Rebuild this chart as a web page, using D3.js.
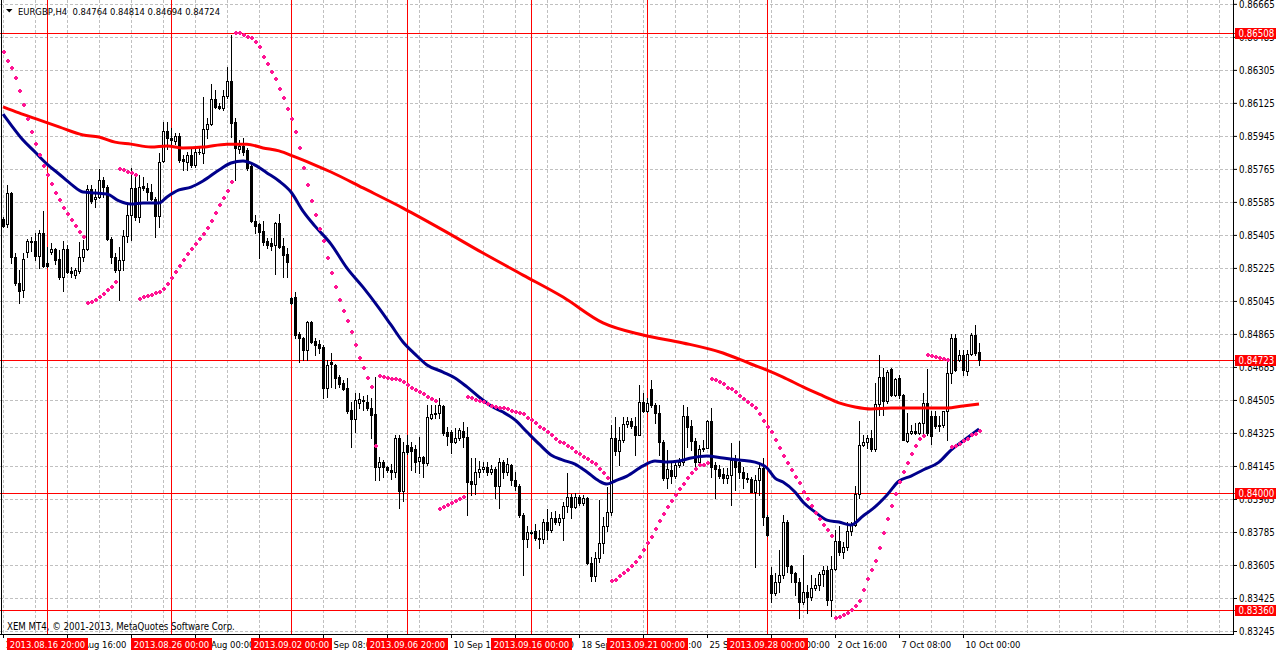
<!DOCTYPE html>
<html><head><meta charset="utf-8">
<script src="https://cdn.jsdelivr.net/npm/d3@7"></script>
<style>
html,body{margin:0;padding:0;background:#fff;overflow:hidden;}
svg{display:block;}
text{font-family:"DejaVu Sans Condensed","DejaVu Sans",sans-serif;}
</style></head><body>
<svg id="c" width="1276" height="652"></svg>
<script>
// ---------- DATA (EURGBP, H4) ----------
const symbolTitle = "EURGBP,H4";
const lastQuote = [0.84764, 0.84814, 0.84694, 0.84724];
const copyright = "XEM MT4, \u00a9 2001-2013, MetaQuotes Software Corp.";

const openP = [
0.85491,0.85464,0.85634,0.85284,0.85143,0.85104,0.85311,0.85372,0.85372,0.85289,
0.85415,0.85252,0.85311,0.85328,0.85273,0.85175,0.85328,0.85208,0.85186,0.85208,
0.85284,0.85328,0.85655,0.85601,0.85612,0.85704,0.85666,0.85382,0.85284,0.85213,
0.85268,0.85398,0.85513,0.85660,0.85502,0.85671,0.85660,0.85639,0.85601,0.85507,
0.85808,0.85972,0.85935,0.85915,0.85944,0.85819,0.85802,0.85841,0.85786,0.85857,
0.85852,0.85983,0.86010,0.86146,0.86110,0.86097,0.86163,0.86245,0.86021,0.85873,
0.85890,0.85868,0.85780,0.85480,0.85464,0.85426,0.85372,0.85361,0.85350,0.85470,
0.85344,0.85300,0.85060,0.85066,0.84864,0.84842,0.84777,0.84930,0.84826,0.84810,
0.84793,0.84570,0.84712,0.84696,0.84630,0.84597,0.84570,0.84450,0.84401,0.84489,
0.84505,0.84494,0.84461,0.84428,0.84139,0.84166,0.84139,0.84123,0.84112,0.84298,
0.84009,0.84260,0.84248,0.84237,0.84172,0.84194,0.84161,0.84407,0.84428,0.84434,
0.84472,0.84330,0.84330,0.84276,0.84298,0.84336,0.84303,0.84063,0.84046,0.84112,
0.84128,0.84139,0.84112,0.84128,0.84036,0.84166,0.84112,0.84150,0.84068,0.84036,
0.83878,0.83747,0.83785,0.83790,0.83752,0.83747,0.83840,0.83796,0.83861,0.83840,
0.83861,0.83927,0.83976,0.83922,0.83976,0.83943,0.83970,0.83616,0.83545,0.83643,
0.83725,0.83818,0.83894,0.84298,0.84226,0.84287,0.84374,0.84390,0.84363,0.84314,
0.84494,0.84445,0.84565,0.84478,0.84434,0.84276,0.84079,0.84123,0.84090,0.84150,
0.84166,0.84418,0.84363,0.84281,0.84166,0.84237,0.84243,0.84390,0.84150,0.84128,
0.84101,0.84079,0.84096,0.84177,0.84166,0.84112,0.84079,0.84074,0.84003,0.84068,
0.84134,0.83867,0.83550,0.83452,0.83512,0.83550,0.83840,0.83599,0.83561,0.83512,
0.83403,0.83457,0.83430,0.83479,0.83495,0.83556,0.83577,0.83414,0.83583,0.83736,
0.83676,0.83703,0.83790,0.83823,0.83992,0.84259,0.84276,0.84298,0.84237,0.84483,
0.84630,0.84499,0.84674,0.84532,0.84625,0.84532,0.84281,0.84325,0.84336,0.84325,
0.84379,0.84489,0.84418,0.84418,0.84369,0.84369,0.84445,0.84652,0.84842,0.84723,
0.84750,0.84663,0.84755,0.84859,0.84764];

const highP = [
0.85502,0.85677,0.85639,0.85306,0.85213,0.85306,0.85382,0.85393,0.85415,0.85431,
0.85535,0.85339,0.85361,0.85333,0.85322,0.85372,0.85350,0.85230,0.85224,0.85366,
0.85377,0.85677,0.85677,0.85655,0.85764,0.85721,0.85677,0.85393,0.85306,0.85339,
0.85431,0.85579,0.85769,0.85721,0.85732,0.85721,0.85688,0.85682,0.85612,0.85852,
0.86021,0.86021,0.85988,0.85961,0.85961,0.85841,0.85857,0.85884,0.85879,0.85879,
0.86157,0.86042,0.86228,0.86195,0.86124,0.86195,0.86321,0.86495,0.86042,0.85922,
0.85933,0.85879,0.85797,0.85513,0.85470,0.85480,0.85388,0.85388,0.85475,0.85518,
0.85388,0.85333,0.85066,0.85093,0.84875,0.84848,0.84936,0.84936,0.84842,0.84832,
0.84804,0.84723,0.84761,0.84701,0.84641,0.84614,0.84625,0.84494,0.84543,0.84543,
0.84527,0.84532,0.84516,0.84630,0.84194,0.84177,0.84145,0.84155,0.84314,0.84314,
0.84276,0.84314,0.84276,0.84259,0.84303,0.84199,0.84478,0.84478,0.84478,0.84516,
0.84478,0.84358,0.84341,0.84352,0.84352,0.84385,0.84358,0.84188,0.84188,0.84172,
0.84166,0.84166,0.84150,0.84139,0.84188,0.84177,0.84188,0.84155,0.84112,0.84046,
0.83889,0.83817,0.83796,0.83829,0.83796,0.83856,0.83911,0.83894,0.83900,0.83883,
0.83949,0.84107,0.83992,0.83998,0.83987,0.83987,0.83976,0.83648,0.83676,0.83960,
0.83867,0.84030,0.84369,0.84412,0.84358,0.84412,0.84412,0.84407,0.84412,0.84587,
0.84543,0.84516,0.84614,0.84489,0.84478,0.84287,0.84232,0.84161,0.84166,0.84188,
0.84478,0.84467,0.84396,0.84298,0.84259,0.84287,0.84396,0.84461,0.84166,0.84150,
0.84134,0.84134,0.84271,0.84205,0.84281,0.84139,0.84106,0.84085,0.84096,0.84150,
0.84188,0.83878,0.83594,0.83561,0.83686,0.83878,0.83850,0.83605,0.83566,0.83534,
0.83659,0.83495,0.83550,0.83534,0.83566,0.83599,0.83599,0.83653,0.83796,0.83818,
0.83730,0.83839,0.83839,0.84035,0.84390,0.84314,0.84314,0.84341,0.84598,0.84750,
0.84679,0.84668,0.84679,0.84625,0.84641,0.84538,0.84434,0.84369,0.84379,0.84385,
0.84543,0.84674,0.84445,0.84445,0.84418,0.84445,0.84717,0.84864,0.84864,0.84777,
0.84777,0.84777,0.84870,0.84914,0.84814];

const lowP = [
0.85448,0.85448,0.85252,0.85132,0.85034,0.85066,0.85284,0.85317,0.85268,0.85224,
0.85230,0.85228,0.85300,0.85246,0.85164,0.85099,0.85197,0.85175,0.85169,0.85197,
0.85263,0.85322,0.85579,0.85557,0.85606,0.85612,0.85377,0.85252,0.85202,0.85050,
0.85213,0.85366,0.85377,0.85486,0.85475,0.85650,0.85595,0.85595,0.85393,0.85448,
0.85802,0.85873,0.85895,0.85900,0.85802,0.85759,0.85759,0.85775,0.85775,0.85846,
0.85797,0.85933,0.86005,0.86097,0.86090,0.86086,0.86151,0.85939,0.85704,0.85852,
0.85841,0.85759,0.85475,0.85415,0.85278,0.85350,0.85333,0.85322,0.85191,0.85333,
0.85175,0.85175,0.85028,0.84842,0.84712,0.84723,0.84723,0.84816,0.84750,0.84761,
0.84515,0.84521,0.84576,0.84570,0.84575,0.84559,0.84434,0.84249,0.84330,0.84461,
0.84450,0.84450,0.84298,0.84068,0.84068,0.84085,0.84112,0.84074,0.84085,0.83916,
0.83955,0.84210,0.84123,0.84112,0.84106,0.84085,0.84150,0.84401,0.84407,0.84407,
0.84314,0.84259,0.84216,0.84270,0.84287,0.84248,0.83878,0.83987,0.83992,0.84085,
0.84112,0.84096,0.84101,0.83970,0.83916,0.84079,0.84096,0.84041,0.84014,0.83867,
0.83550,0.83703,0.83774,0.83741,0.83697,0.83725,0.83747,0.83785,0.83829,0.83823,
0.83741,0.83894,0.83861,0.83916,0.83933,0.83933,0.83610,0.83517,0.83517,0.83621,
0.83670,0.83790,0.83878,0.84205,0.84150,0.84276,0.84358,0.84352,0.84205,0.84314,
0.84439,0.84439,0.84467,0.84379,0.84205,0.84068,0.84025,0.84052,0.84079,0.84139,
0.84150,0.84249,0.84232,0.84139,0.84150,0.84226,0.84243,0.84085,0.83970,0.84079,
0.84052,0.84052,0.83933,0.84014,0.84079,0.84025,0.84057,0.84003,0.83594,0.83987,
0.83823,0.83763,0.83403,0.83441,0.83457,0.83534,0.83566,0.83512,0.83441,0.83315,
0.83392,0.83343,0.83414,0.83468,0.83468,0.83490,0.83387,0.83326,0.83577,0.83659,
0.83643,0.83686,0.83769,0.83818,0.83970,0.84254,0.84243,0.84226,0.84226,0.84423,
0.84423,0.84489,0.84527,0.84527,0.84515,0.84287,0.84276,0.84319,0.84319,0.84319,
0.84309,0.84314,0.84265,0.84352,0.84336,0.84358,0.84287,0.84597,0.84663,0.84717,
0.84641,0.84641,0.84750,0.84750,0.84694];

const closeP = [
0.85453,0.85634,0.85284,0.85143,0.85099,0.85273,0.85372,0.85366,0.85289,0.85415,
0.85235,0.85235,0.85328,0.85268,0.85175,0.85328,0.85202,0.85197,0.85213,0.85284,
0.85328,0.85655,0.85590,0.85612,0.85704,0.85666,0.85382,0.85284,0.85213,0.85268,
0.85398,0.85513,0.85660,0.85502,0.85666,0.85660,0.85639,0.85601,0.85507,0.85802,
0.85972,0.85933,0.85922,0.85944,0.85813,0.85808,0.85841,0.85786,0.85857,0.85855,
0.85983,0.86010,0.86146,0.86103,0.86097,0.86163,0.86245,0.86016,0.85879,0.85890,
0.85857,0.85769,0.85480,0.85453,0.85420,0.85366,0.85350,0.85344,0.85470,0.85339,
0.85295,0.85257,0.85034,0.84859,0.84842,0.84777,0.84930,0.84821,0.84804,0.84788,
0.84570,0.84696,0.84701,0.84625,0.84592,0.84565,0.84445,0.84401,0.84505,0.84510,
0.84499,0.84461,0.84423,0.84139,0.84166,0.84139,0.84123,0.84112,0.84298,0.84009,
0.84221,0.84221,0.84226,0.84166,0.84194,0.84161,0.84412,0.84428,0.84434,0.84478,
0.84325,0.84309,0.84276,0.84298,0.84341,0.84303,0.84057,0.84046,0.84112,0.84128,
0.84139,0.84112,0.84128,0.84036,0.84166,0.84112,0.84155,0.84068,0.84036,0.83878,
0.83747,0.83785,0.83780,0.83752,0.83747,0.83840,0.83796,0.83861,0.83840,0.83861,
0.83927,0.83976,0.83922,0.83976,0.83943,0.83970,0.83616,0.83545,0.83643,0.83725,
0.83818,0.83894,0.84298,0.84226,0.84287,0.84374,0.84390,0.84363,0.84314,0.84494,
0.84445,0.84489,0.84478,0.84434,0.84276,0.84079,0.84128,0.84090,0.84150,0.84166,
0.84418,0.84358,0.84281,0.84166,0.84237,0.84243,0.84390,0.84139,0.84128,0.84090,
0.84079,0.84096,0.84177,0.84139,0.84112,0.84079,0.84074,0.84003,0.84068,0.84134,
0.83867,0.83769,0.83452,0.83512,0.83550,0.83840,0.83599,0.83561,0.83512,0.83403,
0.83457,0.83430,0.83479,0.83495,0.83556,0.83577,0.83414,0.83583,0.83736,0.83676,
0.83703,0.83790,0.83823,0.83992,0.84259,0.84276,0.84298,0.84237,0.84483,0.84630,
0.84499,0.84657,0.84532,0.84619,0.84532,0.84287,0.84325,0.84336,0.84325,0.84379,
0.84489,0.84325,0.84309,0.84363,0.84363,0.84445,0.84652,0.84842,0.84668,0.84750,
0.84668,0.84755,0.84859,0.84761,0.84724];

// Parabolic SAR, one value per bar
const sarP = [
0.86402,0.86354,0.86315,0.86260,0.86190,0.86114,0.86037,0.85966,0.85900,0.85841,
0.85780,0.85732,0.85682,0.85634,0.85595,0.85551,0.85518,0.85486,0.85453,0.85420,
0.85393,0.85034,0.85039,0.85050,0.85066,0.85082,0.85104,0.85120,0.85148,0.85764,
0.85759,0.85748,0.85743,0.85732,0.85055,0.85066,0.85071,0.85077,0.85088,0.85093,
0.85110,0.85137,0.85169,0.85202,0.85235,0.85268,0.85300,0.85328,0.85355,0.85382,
0.85409,0.85442,0.85480,0.85524,0.85568,0.85606,0.85645,0.85693,0.86506,0.86506,
0.86495,0.86484,0.86478,0.86457,0.86430,0.86375,0.86337,0.86293,0.86255,0.86201,
0.86152,0.86092,0.86037,0.85966,0.85879,0.85769,0.85677,0.85590,0.85513,0.85437,
0.85372,0.85278,0.85197,0.85120,0.85050,0.84990,0.84936,0.84875,0.84804,0.84734,
0.84679,0.84625,0.84576,0.84254,0.84636,0.84630,0.84625,0.84619,0.84619,0.84614,
0.84603,0.84587,0.84570,0.84559,0.84548,0.84537,0.84521,0.84510,0.84500,0.83911,
0.83922,0.83933,0.83944,0.83954,0.83965,0.83976,0.84521,0.84516,0.84505,0.84500,
0.84494,0.84483,0.84472,0.84467,0.84461,0.84461,0.84456,0.84445,0.84439,0.84434,
0.84428,0.84407,0.84396,0.84379,0.84358,0.84347,0.84330,0.84314,0.84292,0.84276,
0.84270,0.84254,0.84243,0.84221,0.84210,0.84194,0.84183,0.84166,0.84155,0.84128,
0.84106,0.84079,0.83518,0.83523,0.83545,0.83561,0.83577,0.83599,0.83621,0.83648,
0.83686,0.83725,0.83758,0.83801,0.83845,0.83883,0.83922,0.83954,0.83987,0.84019,
0.84046,0.84079,0.84106,0.84128,0.84150,0.84150,0.84161,0.84619,0.84614,0.84603,
0.84592,0.84570,0.84565,0.84548,0.84527,0.84510,0.84494,0.84478,0.84461,0.84428,
0.84390,0.84358,0.84330,0.84287,0.84243,0.84199,0.84161,0.84123,0.84085,0.84052,
0.84003,0.83965,0.83927,0.83889,0.83856,0.83823,0.83796,0.83763,0.83316,0.83321,
0.83332,0.83343,0.83359,0.83381,0.83408,0.83468,0.83528,0.83577,0.83626,0.83697,
0.83780,0.83856,0.83927,0.83992,0.84057,0.84112,0.84161,0.84210,0.84254,0.84292,
0.84309,0.84750,0.84745,0.84739,0.84734,0.84728,0.84723,0.84248,0.84254,0.84265,
0.84281,0.84292,0.84314,0.84319,0.84336];

// Fast moving average (dark blue), read at these bars
const maFastBars = [0,2,5,8,11,14,17,20,23,26,29,32,35,39,41,44,47,50,54,57,60,63,66,69,72,75,78,82,86,90,94,97,100,103,106,110,113,116,119,122,125,128,131,134,137,140,143,146,149,151,153,156,160,163,166,169,172,176,180,184,188,191,193,195,198,200,203,206,209,212,215,218,221,224,227,230,234,237,240,244];
const maFastVals = [0.86064,0.86005,0.85922,0.85857,0.85791,0.85737,0.85682,0.85639,0.85634,0.85628,0.85590,0.85573,0.85579,0.85579,0.85612,0.85650,0.85666,0.85699,0.85759,0.85797,0.85808,0.85786,0.85743,0.85699,0.85639,0.85535,0.85453,0.85355,0.85224,0.85120,0.85006,0.84914,0.84821,0.84755,0.84696,0.84657,0.84625,0.84576,0.84521,0.84472,0.84439,0.84396,0.84330,0.84265,0.84205,0.84177,0.84155,0.84112,0.84063,0.84046,0.84063,0.84090,0.84145,0.84172,0.84166,0.84172,0.84188,0.84199,0.84188,0.84177,0.84166,0.84134,0.84079,0.84057,0.84003,0.83949,0.83894,0.83850,0.83839,0.83823,0.83872,0.83922,0.83987,0.84063,0.84090,0.84123,0.84166,0.84232,0.84281,0.84347];

// Slow moving average (red), read at these bars
const maSlowBars = [0,4,9,14,20,24,28,32,37,41,45,50,56,61,65,69,73,78,82,90,100,110,120,130,140,150,160,170,180,187,191,195,200,205,209,213,217,222,229,236,240,244];
const maSlowVals = [0.86103,0.86070,0.86032,0.85994,0.85950,0.85939,0.85911,0.85900,0.85884,0.85890,0.85879,0.85884,0.85900,0.85900,0.85879,0.85863,0.85830,0.85786,0.85748,0.85661,0.85551,0.85431,0.85306,0.85186,0.85066,0.84925,0.84859,0.84816,0.84761,0.84701,0.84668,0.84630,0.84576,0.84527,0.84489,0.84467,0.84456,0.84461,0.84461,0.84461,0.84472,0.84483];

// Price axis tick labels
const priceTicks = [0.86665,0.86485,0.86305,0.86125,0.85945,0.85765,0.85585,0.85405,0.85225,0.85045,0.84865,0.84685,0.84505,0.84325,0.84145,0.83965,0.83785,0.83605,0.83425,0.83245];

// Time axis ticks (bar index) and labels
const timeTickBars = [0,16,32,48,64,80,96,112,128,144,160,176,192,208,224,240];
const timeTickLabels = ["15 Aug 2013","19 Aug 16:00","22 Aug 08:00","27 Aug 00:00","29 Aug 16:00","3 Sep 08:00","6 Sep 00:00","10 Sep 16:00","13 Sep 08:00","18 Sep 00:00","20 Sep 16:00","25 Sep 08:00","30 Sep 00:00","2 Oct 16:00","7 Oct 08:00","10 Oct 00:00"];

// Horizontal price levels (red lines)
const hLevels = [0.86508,0.84723,0.84000,0.83360];
// Vertical time lines (bar index) and their labels
const vLineBars = [11,42,72,101,132,161,191];
const vLineLabels = ["2013.08.16 20:00","2013.08.26 00:00","2013.09.02 00:00","2013.09.06 20:00","2013.09.16 00:00","2013.09.21 00:00","2013.09.28 00:00"];

// ---------- DRAW ----------
const svg = d3.select("#c");
const plotRight = 1233, plotBottom = 634;
const x = d3.scaleLinear().domain([0, 244]).range([3, 979]);
const y = d3.scaleLinear().domain([0.83245, 0.86665]).range([631, 3.85]);
const px = v => Math.round(v) + 0.5;
const FS = 9.6, FS_BOTTOM = 9.4, FS_TITLE = 9.4, FS_COPY = 9.6;

svg.append("rect").attr("width",1276).attr("height",652).attr("fill","#fff");

// grid
const grid = svg.append("g").attr("stroke","#c0c0c0").attr("stroke-dasharray","3,2").attr("shape-rendering","crispEdges");
grid.selectAll(null).data(priceTicks).join("line")
  .attr("x1",0).attr("x2",plotRight).attr("y1",d=>px(y(d))).attr("y2",d=>px(y(d)));
grid.selectAll(null).data(d3.range(0, 305, 8)).join("line")
  .attr("x1",d=>px(x(d))).attr("x2",d=>px(x(d))).attr("y1",0).attr("y2",plotBottom);

// red objects
const obj = svg.append("g").attr("stroke","#ff0000").attr("shape-rendering","crispEdges");
obj.selectAll(null).data(hLevels).join("line")
  .attr("x1",0).attr("x2",plotRight+2).attr("y1",d=>px(y(d))).attr("y2",d=>px(y(d)));
obj.selectAll(null).data(vLineBars).join("line")
  .attr("x1",d=>px(x(d))).attr("x2",d=>px(x(d))).attr("y1",0).attr("y2",plotBottom);

// candles
const bars = d3.range(openP.length).map(i => ({i, o:openP[i], h:highP[i], l:lowP[i], c:closeP[i]}));
const cg = svg.append("g").attr("shape-rendering","crispEdges");
cg.selectAll("line.w").data(bars).join("line").attr("class","w")
  .attr("x1",d=>px(x(d.i))).attr("x2",d=>px(x(d.i)))
  .attr("y1",d=>Math.round(y(d.h))).attr("y2",d=>Math.round(y(d.l))+1)
  .attr("stroke","#000");
cg.selectAll("rect.b").data(bars).join("rect").attr("class","b")
  .each(function(d){
    const cx = Math.round(x(d.i));
    const t = Math.round(y(Math.max(d.o,d.c))), b = Math.round(y(Math.min(d.o,d.c)));
    const s = d3.select(this);
    if (d.c > d.o && b - t >= 2) {
      s.attr("x",cx-0.5).attr("y",t+0.5).attr("width",2).attr("height",b-t)
       .attr("fill","#fff").attr("stroke","#000").attr("stroke-width",1);
    } else {
      s.attr("x",cx-1).attr("y",t).attr("width",3).attr("height",Math.max(1,b-t+1))
       .attr("fill","#000");
    }
  });

// moving averages
const line = d3.line().x(d=>x(d[0])).y(d=>y(d[1])).curve(d3.curveMonotoneX);
svg.append("path").datum(maSlowBars.map((b,k)=>[b,maSlowVals[k]]))
  .attr("d",line).attr("fill","none").attr("stroke","#ff0000").attr("stroke-width",3).attr("stroke-linejoin","round");
svg.append("path").datum(maFastBars.map((b,k)=>[b,maFastVals[k]]))
  .attr("d",line).attr("fill","none").attr("stroke","#00008b").attr("stroke-width",3).attr("stroke-linejoin","round");

// parabolic SAR dots
const sarShape = "M-1,-2h2v1h1v2h-1v1h-2v-1h-1v-2h1z";
svg.append("g").attr("fill","#ff1493").attr("shape-rendering","crispEdges")
  .selectAll("path").data(sarP.map((v,i)=>[i,v])).join("path")
  .attr("d",sarShape)
  .attr("transform",d=>`translate(${Math.round(x(d[0]))+0.5},${Math.round(y(d[1]))})`);

// frame lines
svg.append("line").attr("x1",1.5).attr("x2",1.5).attr("y1",0).attr("y2",plotBottom).attr("stroke","#000");
svg.append("line").attr("x1",px(plotRight)).attr("x2",px(plotRight)).attr("y1",0).attr("y2",plotBottom+1).attr("stroke","#000");
svg.append("line").attr("x1",0).attr("x2",plotRight+1).attr("y1",px(plotBottom)).attr("y2",px(plotBottom)).attr("stroke","#000");

// price axis
const yAxis = svg.append("g").attr("transform",`translate(${plotRight},0)`)
  .call(d3.axisRight(y).tickValues(priceTicks).tickFormat(d3.format(".5f")).tickSize(4).tickPadding(2));
yAxis.select(".domain").remove();
yAxis.attr("font-family",null).attr("font-size",null);
yAxis.selectAll("text").style("font-size",FS+"px").attr("fill","#000").attr("dy","0.35em");

// time axis
const xAxis = svg.append("g").attr("transform",`translate(0,${plotBottom})`)
  .call(d3.axisBottom(x).tickValues(timeTickBars).tickFormat((d,i)=>timeTickLabels[i]).tickSize(4).tickPadding(3));
xAxis.select(".domain").remove();
xAxis.attr("font-family",null).attr("font-size",null);
xAxis.selectAll("text").attr("text-anchor","start").attr("x",2).style("font-size",FS_BOTTOM+"px").attr("fill","#000");

// red labels for horizontal levels
const hl = svg.append("g");
hl.selectAll("rect").data(hLevels).join("rect")
  .attr("x",plotRight+2).attr("y",d=>Math.round(y(d))-5).attr("width",41).attr("height",11).attr("fill","#ff0000");
hl.selectAll("text").data(hLevels).join("text")
  .attr("x",plotRight+5.5).attr("y",d=>Math.round(y(d))+4).attr("fill","#fff").style("font-size",FS+"px")
  .text(d=>d3.format(".5f")(d));

// red labels for vertical lines
const vl = svg.append("g");
vl.selectAll("rect").data(vLineBars).join("rect")
  .attr("x",d=>Math.round(x(d))-40).attr("y",638).attr("width",81).attr("height",12).attr("fill","#ff0000");
vl.selectAll("text").data(vLineBars).join("text")
  .attr("x",d=>Math.round(x(d))+0.5).attr("y",647.5).attr("text-anchor","middle").attr("fill","#fff")
  .style("font-size",FS_BOTTOM+"px").text((d,k)=>vLineLabels[k]);

// title
svg.append("path").attr("d","M6,9L12.5,9L9.25,12.5Z").attr("fill","#000");
svg.append("text").attr("x",18).attr("y",14.5).style("font-size",FS_TITLE+"px").style("white-space","pre").attr("fill","#000")
  .text(symbolTitle + "  " + lastQuote.map(d3.format(".5f")).join(" "));

// copyright
svg.append("text").attr("x",7).attr("y",629.5).style("font-size",FS_COPY+"px").attr("fill","#000").text(copyright);
</script>
</body></html>
